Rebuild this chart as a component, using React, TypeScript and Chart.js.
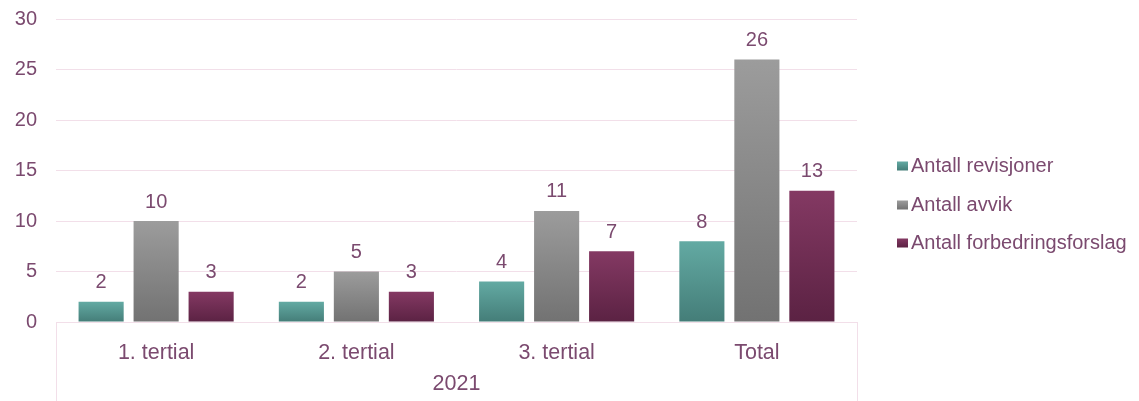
import React, { useEffect, useRef } from "react";
import { Chart, registerables } from "chart.js";

Chart.register(...registerables);

const categories = ["1. tertial", "2. tertial", "3. tertial", "Total"];
const groupLabel = "2021";
const seriesNames = ["Antall revisjoner", "Antall avvik", "Antall forbedringsforslag"];
const revisjoner = [2, 2, 4, 8];
const avvik = [10, 5, 11, 26];
const forbedringsforslag = [3, 3, 7, 13];
const yTicks = [0, 5, 10, 15, 20, 25, 30];

const TEXT = "#7b4a6f";
const GRID = "#f2dfe9";
const FONT = "'Liberation Sans', Arial, sans-serif";

const palette = [
  { top: "#63aaa3", bottom: "#447d78" },
  { top: "#9c9c9c", bottom: "#727272" },
  { top: "#843963", bottom: "#5b2243" },
];

function grad(top: string, bottom: string) {
  return (ctx: any) => {
    const chart = ctx.chart;
    const area = chart.chartArea;
    if (!area || ctx.type !== "data" || !chart.scales.y) return bottom;
    const y = chart.scales.y;
    const yTop = y.getPixelForValue(ctx.raw);
    const yBase = y.getPixelForValue(0);
    if (!isFinite(yTop) || !isFinite(yBase) || yTop === yBase) return bottom;
    const g = chart.ctx.createLinearGradient(0, yTop, 0, yBase);
    g.addColorStop(0, top);
    g.addColorStop(1, bottom);
    return g;
  };
}

const extrasPlugin = {
  id: "extras",
  afterDatasetsDraw(chart: any) {
    const { ctx, chartArea } = chart;
    ctx.save();
    // data labels
    ctx.font = `20px ${FONT}`;
    ctx.fillStyle = TEXT;
    ctx.textAlign = "center";
    ctx.textBaseline = "middle";
    chart.data.datasets.forEach((ds: any, i: number) => {
      const meta = chart.getDatasetMeta(i);
      meta.data.forEach((el: any, j: number) => {
        ctx.fillText(String(ds.data[j]), el.x, el.y - 19);
      });
    });
    // extended category borders
    ctx.strokeStyle = GRID;
    ctx.lineWidth = 1;
    ctx.beginPath();
    const l = Math.round(chartArea.left) + 0.5;
    const r = Math.round(chartArea.right) + 0.5;
    ctx.moveTo(l, chartArea.bottom);
    ctx.lineTo(l, chart.height);
    ctx.moveTo(r, chartArea.bottom);
    ctx.lineTo(r, chart.height);
    ctx.stroke();
    // group label
    ctx.fillStyle = TEXT;
    ctx.font = `21.5px ${FONT}`;
    ctx.fillText(groupLabel, (chartArea.left + chartArea.right) / 2, 384);
    // legend
    ctx.font = `20px ${FONT}`;
    ctx.textAlign = "left";
    const legendX = 897;
    const rows = [166, 205, 243];
    chart.data.datasets.forEach((ds: any, i: number) => {
      const cy = rows[i];
      const g = ctx.createLinearGradient(0, cy - 4.5, 0, cy + 4.5);
      g.addColorStop(0, palette[i].top);
      g.addColorStop(1, palette[i].bottom);
      ctx.fillStyle = g;
      ctx.fillRect(legendX, cy - 4.5, 11, 9);
      ctx.fillStyle = TEXT;
      ctx.fillText(ds.label, legendX + 14, cy);
    });
    ctx.restore();
  },
};

export default function App() {
  const ref = useRef<HTMLCanvasElement>(null);
  useEffect(() => {
    if (!ref.current) return;
    const series = [revisjoner, avvik, forbedringsforslag];
    const chart = new Chart(ref.current, {
      type: "bar",
      data: {
        labels: categories,
        datasets: series.map((d, i) => ({
          label: seriesNames[i],
          data: d,
          backgroundColor: grad(palette[i].top, palette[i].bottom),
          borderWidth: 0,
          barPercentage: 0.82,
          categoryPercentage: 0.824,
        })),
      },
      options: {
        animation: false,
        responsive: false,
        maintainAspectRatio: false,
        layout: { padding: { left: 0, right: 282, top: 19, bottom: 0 } },
        plugins: {
          legend: { display: false },
          tooltip: { enabled: false },
          title: { display: false },
        },
        scales: {
          x: {
            grid: { display: false },
            border: { display: true, color: GRID, width: 1 },
            ticks: {
              color: TEXT,
              font: { size: 21.5, family: FONT },
              padding: 10,
              maxRotation: 0,
            },
            afterFit: (s: any) => {
              s.height = 79;
            },
          },
          y: {
            min: 0,
            max: 30,
            afterBuildTicks: (s: any) => {
              s.ticks = yTicks.map((v) => ({ value: v }));
            },
            grid: { color: GRID, drawTicks: false, lineWidth: 1 },
            border: { display: false },
            ticks: {
              color: TEXT,
              font: { size: 20, family: FONT },
              padding: 19,
            },
            afterFit: (s: any) => {
              s.width = 56;
              s.paddingTop = 12;
              s.paddingBottom = 0;
            },
          },
        },
      },
      plugins: [extrasPlugin],
    });
    return () => chart.destroy();
  }, []);
  return (
    <div style={{ position: "fixed", left: 0, top: 0, width: 1139, height: 401, background: "#fff" }}>
      <canvas ref={ref} width={1139} height={401} style={{ display: "block" }} />
    </div>
  );
}
